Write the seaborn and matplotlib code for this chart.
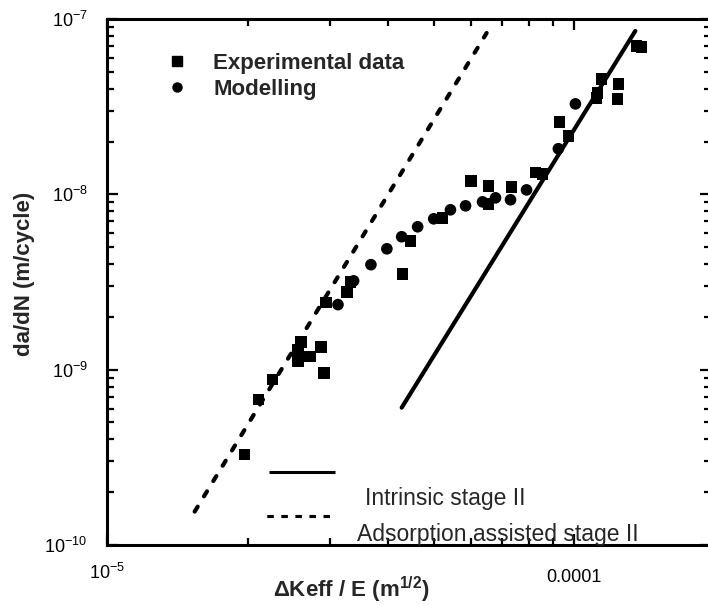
import numpy as np
import pandas as pd
import seaborn as sns
import matplotlib
matplotlib.use("Agg")
import matplotlib.pyplot as plt
from matplotlib.lines import Line2D
from matplotlib.ticker import FixedLocator, FixedFormatter, LogLocator, NullFormatter

# ---------------- data ----------------
exp_dk = [1.97e-5, 2.11e-5, 2.26e-5, 2.56e-5, 2.56e-5, 2.60e-5, 2.72e-5, 2.87e-5,
          2.91e-5, 2.94e-5, 3.26e-5, 3.32e-5, 4.29e-5, 4.46e-5, 5.22e-5, 6.00e-5,
          6.55e-5, 6.55e-5, 7.34e-5, 8.26e-5, 8.54e-5, 9.29e-5, 9.71e-5, 1.114e-4,
          1.120e-4, 1.142e-4, 1.236e-4, 1.242e-4, 1.357e-4, 1.391e-4]
exp_dadn = [3.28e-10, 6.75e-10, 8.77e-10, 1.125e-9, 1.30e-9, 1.44e-9, 1.19e-9, 1.35e-9,
            9.6e-10, 2.41e-9, 2.78e-9, 3.17e-9, 3.52e-9, 5.43e-9, 7.35e-9, 1.19e-8,
            1.12e-8, 8.83e-9, 1.10e-8, 1.33e-8, 1.31e-8, 2.59e-8, 2.16e-8, 3.55e-8,
            3.79e-8, 4.55e-8, 3.50e-8, 4.26e-8, 7.02e-8, 6.92e-8]

mod_dk = [3.12e-5, 3.37e-5, 3.67e-5, 3.97e-5, 4.27e-5, 4.62e-5, 5.00e-5, 5.43e-5,
          5.85e-5, 6.36e-5, 6.78e-5, 7.30e-5, 7.90e-5, 9.24e-5, 1.005e-4]
mod_dadn = [2.35e-9, 3.21e-9, 3.97e-9, 4.89e-9, 5.73e-9, 6.53e-9, 7.25e-9, 8.16e-9,
            8.60e-9, 9.06e-9, 9.55e-9, 9.31e-9, 1.06e-8, 1.82e-8, 3.28e-8]

intrinsic_dk = [4.27e-5, 1.35e-4]
intrinsic_dadn = [6.07e-10, 8.55e-8]
adsorption_dk = [1.54e-5, 6.49e-5]
adsorption_dadn = [1.55e-10, 8.32e-8]

series_names = ["Experimental data", "Modelling"]
line_names = ["Intrinsic stage II", "Adsorption assisted stage II"]

x_ticks = [1e-5, 1e-4]
x_ticklabels = [r"$\mathdefault{10^{-5}}$", "0.0001"]
y_ticks = [1e-10, 1e-9, 1e-8, 1e-7]
y_ticklabels = [r"$\mathdefault{10^{-10}}$", r"$\mathdefault{10^{-9}}$",
                r"$\mathdefault{10^{-8}}$", r"$\mathdefault{10^{-7}}$"]

# ---------------- style ----------------
sns.set_theme(style="ticks")
plt.rcParams["font.family"] = ["Liberation Sans", "DejaVu Sans"]
plt.rcParams["mathtext.fontset"] = "custom"
plt.rcParams["mathtext.rm"] = "Liberation Sans"
plt.rcParams["mathtext.it"] = "Liberation Sans:italic"
plt.rcParams["mathtext.bf"] = "Liberation Sans:bold"

fig = plt.figure(figsize=(7.08, 6.05), dpi=100)
ax = fig.add_axes([107 / 708, 60 / 605, 604 / 708, 526 / 605])
ax.set_xscale("log")
ax.set_yscale("log")

df = pd.DataFrame({
    "dk": exp_dk + mod_dk,
    "dadn": exp_dadn + mod_dadn,
    "kind": [series_names[0]] * len(exp_dk) + [series_names[1]] * len(mod_dk),
})

sns.lineplot(x=adsorption_dk, y=adsorption_dadn, ax=ax, color="black", lw=3.0,
             linestyle=(0, (1.4, 2.9)), dash_capstyle="round", estimator=None,
             legend=False)
sns.lineplot(x=intrinsic_dk, y=intrinsic_dadn, ax=ax, color="black", lw=3.0,
             estimator=None, legend=False, solid_capstyle="round")
sns.scatterplot(data=df, x="dk", y="dadn", style="kind",
                markers={series_names[0]: "s", series_names[1]: "o"},
                color="black", s=70, linewidth=0, ax=ax, legend=False, zorder=3)

ax.set_xlim(1e-5, 1.96e-4)
ax.set_ylim(1e-10, 1e-7)

# ticks
ax.xaxis.set_major_locator(FixedLocator(x_ticks))
ax.xaxis.set_major_formatter(FixedFormatter(x_ticklabels))
ax.yaxis.set_major_locator(FixedLocator(y_ticks))
ax.yaxis.set_major_formatter(FixedFormatter(y_ticklabels))
ax.xaxis.set_minor_locator(LogLocator(base=10, subs=np.arange(2, 10), numticks=20))
ax.yaxis.set_minor_locator(LogLocator(base=10, subs=np.arange(2, 10), numticks=20))
ax.xaxis.set_minor_formatter(NullFormatter())
ax.yaxis.set_minor_formatter(NullFormatter())
ax.tick_params(which="both", direction="in", top=True, right=True, width=1.6,
               colors="black", labelsize=13)
ax.tick_params(which="major", length=8)
ax.tick_params(which="minor", length=5)
ax.tick_params(axis="x", which="major", pad=13)
ax.tick_params(axis="y", which="major", pad=14)
for sp in ax.spines.values():
    sp.set_linewidth(2.2)
    sp.set_color("black")
ax.grid(False)

ax.set_xlabel(r"ΔKeff / E (m$^{\mathbf{1/2}}$)", fontsize=16, fontweight="bold")
ax.set_ylabel("da/dN (m/cycle)", fontsize=16, fontweight="bold")
ax.xaxis.set_label_coords(0.405, -0.056)
ax.yaxis.set_label_coords(-0.119, 0.515)

fig.canvas.draw()
ax.xaxis.get_major_ticks()[1].set_pad(17)

# top legend (markers)
h1 = [Line2D([], [], marker="s", color="black", ls="", markersize=6.5),
      Line2D([], [], marker="o", color="black", ls="", markersize=6.5)]
leg1 = ax.legend(h1, series_names, loc="center left", bbox_to_anchor=(0.0987, 0.8907),
                 frameon=False, borderpad=0, borderaxespad=0, handlelength=0.95,
                 handletextpad=1.15, labelspacing=0.22,
                 prop={"weight": "bold", "size": 16})
ax.add_artist(leg1)

# bottom legend keys (lines) with separate text labels
kw = dict(frameon=False, borderpad=0, borderaxespad=0, handlelength=3.65,
          handletextpad=0, fontsize=13, loc="center left")
leg2 = ax.legend([Line2D([], [], color="black", lw=2.2, solid_capstyle="butt")], [""],
                 bbox_to_anchor=((269 - 107) / 604, (545 - 474) / 526), **kw)
ax.add_artist(leg2)
leg3 = ax.legend([Line2D([], [], color="black", lw=2.2, linestyle=(0, (2.0, 2.6)),
                         dash_capstyle="butt")], [""],
                 bbox_to_anchor=((267 - 107) / 604, (545 - 518) / 526), **kw)
ax.add_artist(leg3)

ax.text((365 - 107) / 604, (545 - 498) / 526, line_names[0], transform=ax.transAxes,
        fontsize=16.5, ha="left", va="center")
ax.text((357 - 107) / 604, (545 - 535) / 526, line_names[1], transform=ax.transAxes,
        fontsize=16.5, ha="left", va="center")

fig.savefig("out.png", dpi=100)
